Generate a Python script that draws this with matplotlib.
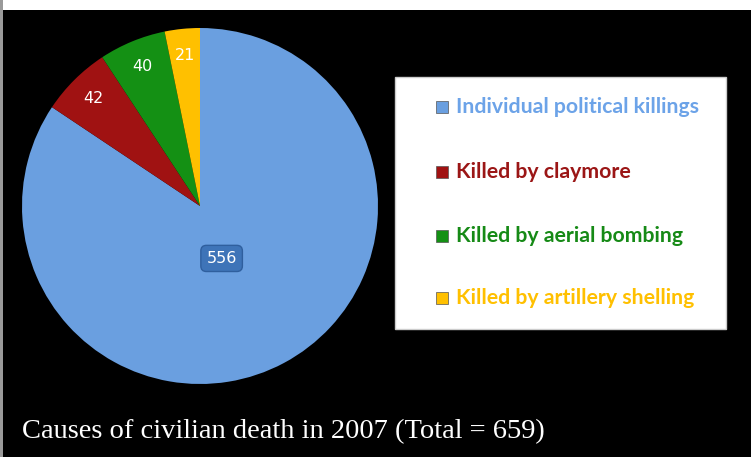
import matplotlib.pyplot as plt
import matplotlib.patches as mpatches
import numpy as np

causes = ['Individual political killings', 'Killed by claymore',
          'Killed by aerial bombing', 'Killed by artillery shelling']
deaths = [556, 42, 40, 21]
total = 659

slice_colors = ['#6A9FE0', '#A01212', '#149014', '#FFC000']
text_colors = ['#6CA3E8', '#9B1616', '#168A16', '#FFC000']

W, H = 751, 457
fig = plt.figure(figsize=(W / 100, H / 100), dpi=100, facecolor='black')

# white strip at the top, grey border on the left
fig.patches.append(mpatches.Rectangle((0, 1 - 10 / H), 1, 10 / H, transform=fig.transFigure,
                                      facecolor='white', edgecolor='none'))
fig.patches.append(mpatches.Rectangle((0, 0), 3 / W, 1, transform=fig.transFigure,
                                      facecolor='#9a9a9a', edgecolor='none'))

# pie
cx, cy, r = 200, 206, 178
ax = fig.add_axes([(cx - r) / W, (H - cy - r) / H, 2 * r / W, 2 * r / H])
ax.set_facecolor('black')
wedges, _ = ax.pie(deaths, colors=slice_colors, startangle=90, counterclock=False,
                   radius=1, wedgeprops=dict(edgecolor='none'))
ax.set_xlim(-1, 1)
ax.set_ylim(-1, 1)
ax.set_aspect('equal')
ax.axis('off')

for i, (w, v) in enumerate(zip(wedges, deaths)):
    mid = np.deg2rad((w.theta1 + w.theta2) / 2)
    if i == 0:
        d = 0.3
        ax.text(d * np.cos(mid) - 0.02, d * np.sin(mid) - 0.03, str(v), ha='center', va='center',
                color='white', fontsize=11.5, family='DejaVu Sans',
                bbox=dict(boxstyle='round,pad=0.35', facecolor='#3E74B8', edgecolor='#2F5F9E'))
    else:
        d = 0.85
        ax.text(d * np.cos(mid), d * np.sin(mid), str(v), ha='center', va='center',
                color='white', fontsize=11.5, family='DejaVu Sans')

# legend box
fig.patches.append(mpatches.Rectangle((395 / W, 1 - 329 / H), 331 / W, 252 / H,
                                      transform=fig.transFigure, facecolor='white',
                                      edgecolor='#cccccc', linewidth=1))
row_y = [107, 172, 236, 298]
for name, c, tc, y in zip(causes, slice_colors, text_colors, row_y):
    fig.patches.append(mpatches.Rectangle((436 / W, 1 - (y + 6) / H), 12 / W, 12 / H,
                                          transform=fig.transFigure, facecolor=c,
                                          edgecolor='#555555', linewidth=0.5))
    fig.text(456 / W, 1 - y / H, name, color=tc, fontsize=15.3, fontweight='bold',
             family='Lato', ha='left', va='center')

fig.text(22 / W, 1 - 432 / H, 'Causes of civilian death in 2007 (Total = %d)' % total,
         color='white', fontsize=20.5, family='Liberation Serif', ha='left', va='center')

fig.savefig('out.png', dpi=100, facecolor=fig.get_facecolor())
